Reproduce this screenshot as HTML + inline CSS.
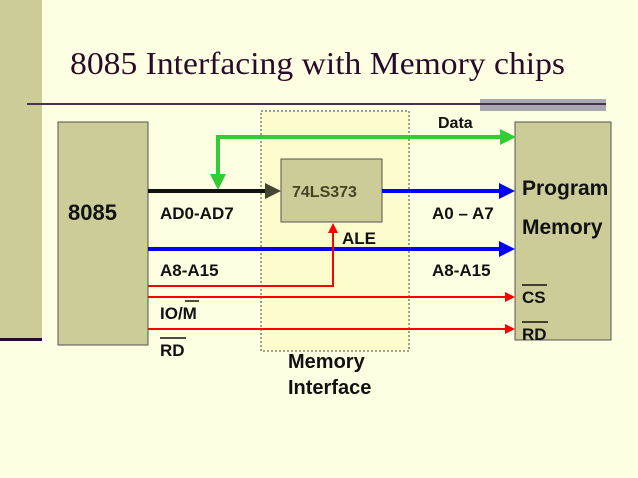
<!DOCTYPE html><html><head><style>body{margin:0;background:#fefee2;}</style></head><body>
<svg width="638" height="478" xmlns="http://www.w3.org/2000/svg" style="display:block">
<rect width="638" height="478" fill="#fefee2"/>
<rect x="0" y="0" width="42" height="339" fill="#cccc99"/>
<rect x="0" y="338" width="42" height="3" fill="#2a0a2a"/>
<text x="70" y="74" font-family="Liberation Serif, serif" font-size="32" fill="#2a0a2a" textLength="495" lengthAdjust="spacingAndGlyphs">8085 Interfacing with Memory chips</text>
<rect x="480" y="99" width="126" height="12" fill="#a8a8b0"/>
<rect x="27" y="103" width="579" height="2" fill="#4a3050"/>
<rect x="261" y="111" width="148" height="240" fill="#fcfccc" stroke="#444" stroke-dasharray="2,2"/>
<rect x="58" y="122" width="90" height="223" fill="#cccc99" stroke="#555"/>
<rect x="515" y="122" width="96" height="218" fill="#cccc99" stroke="#555"/>
<rect x="281" y="159" width="101" height="63" fill="#cccc99" stroke="#555"/>
<defs>
<marker id="g" markerWidth="4" markerHeight="4" refX="2" refY="2" orient="auto"><path d="M0,0L4,2L0,4z" fill="#33cc33"/></marker>
<marker id="b" markerWidth="4" markerHeight="4" refX="2" refY="2" orient="auto"><path d="M0,0L4,2L0,4z" fill="#0000ff"/></marker>
<marker id="k" markerWidth="4" markerHeight="4" refX="2" refY="2" orient="auto"><path d="M0,0L4,2L0,4z" fill="#444433"/></marker>
<marker id="r" markerWidth="5" markerHeight="5" refX="2.5" refY="2.5" orient="auto"><path d="M0,0L5,2.5L0,5z" fill="#ff0000"/></marker>
</defs>
<polyline points="300,137 218,137 218,182" fill="none" stroke="#33cc33" stroke-width="4" marker-end="url(#g)"/>
<line x1="218" y1="137" x2="508" y2="137" stroke="#33cc33" stroke-width="4" marker-end="url(#g)"/>
<line x1="148" y1="191" x2="273" y2="191" stroke="#111" stroke-width="4" marker-end="url(#k)"/>
<line x1="382" y1="191" x2="507" y2="191" stroke="#0000ff" stroke-width="4" marker-end="url(#b)"/>
<line x1="148" y1="249" x2="507" y2="249" stroke="#0000ff" stroke-width="4" marker-end="url(#b)"/>
<polyline points="148,286 333,286 333,228" fill="none" stroke="#ff0000" stroke-width="2" marker-end="url(#r)"/>
<line x1="148" y1="297" x2="510" y2="297" stroke="#ff0000" stroke-width="2" marker-end="url(#r)"/>
<line x1="148" y1="329" x2="510" y2="329" stroke="#ff0000" stroke-width="2" marker-end="url(#r)"/>
<g font-family="Liberation Sans, sans-serif" font-weight="bold" fill="#111">
<text x="68" y="220" font-size="22">8085</text>
<text x="292" y="197" font-size="16" fill="#444422">74LS373</text>
<text x="438" y="128" font-size="16">Data</text>
<text x="160" y="219" font-size="17">AD0-AD7</text>
<text x="342" y="244" font-size="17">ALE</text>
<text x="160" y="276" font-size="17">A8-A15</text>
<text x="432" y="219" font-size="17">A0 – A7</text>
<text x="432" y="276" font-size="17">A8-A15</text>
<text x="160" y="319" font-size="17">IO/M</text>
<line x1="185" y1="301" x2="199" y2="301" stroke="#111" stroke-width="1.5"/>
<text x="160" y="356" font-size="17">RD</text>
<line x1="160" y1="338" x2="186" y2="338" stroke="#111" stroke-width="1.5"/>
<text x="288" y="368" font-size="20">Memory</text>
<text x="288" y="394" font-size="20">Interface</text>
<text x="522" y="195" font-size="21">Program</text>
<text x="522" y="234" font-size="21">Memory</text>
<text x="522" y="303" font-size="17">CS</text>
<line x1="522" y1="285" x2="547" y2="285" stroke="#111" stroke-width="1.5"/>
<text x="522" y="340" font-size="17">RD</text>
<line x1="522" y1="322" x2="548" y2="322" stroke="#111" stroke-width="1.5"/>
</g>
</svg>
</body></html>
